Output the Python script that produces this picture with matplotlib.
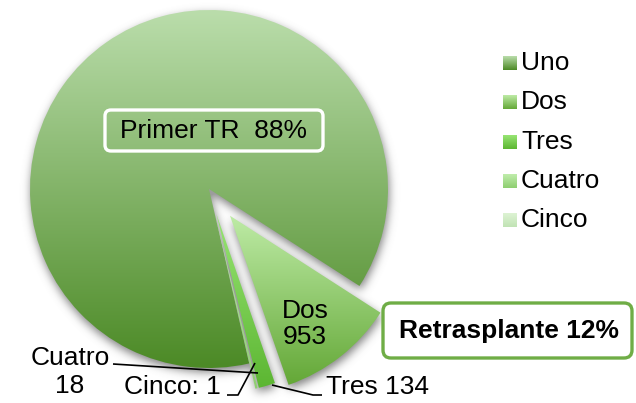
import numpy as np
import matplotlib
matplotlib.use('Agg')
import matplotlib.pyplot as plt
from matplotlib.patches import FancyBboxPatch

plt.rcParams['font.family'] = ['Liberation Sans', 'DejaVu Sans']

# ---- data ----
categories = ['Uno', 'Dos', 'Tres', 'Cuatro', 'Cinco']
values = [7900, 953, 134, 18, 1]
group_labels = ['Primer TR', 'Retrasplante']

# ---- style ----
W, H = 636, 403
grad_top = [(186, 221, 171), (190, 235, 166), (152, 229, 116), (192, 237, 172), (222, 243, 212)]
grad_bot = [(76, 138, 38), (100, 168, 55), (92, 182, 50), (142, 206, 112), (192, 227, 180)]
explode = [0, 34, 26, 26, 26]
FS = 19


def Y(y):
    return H - y


fig = plt.figure(figsize=(W / 100, H / 100), dpi=100)
ax = fig.add_axes([0, 0, 1, 1])

total = sum(values)
start = -32.8 + 360 * values[0] / total
wedges, _ = ax.pie(values, radius=179, center=(209, Y(189)), startangle=start,
                   counterclock=False, explode=explode,
                   wedgeprops=dict(linewidth=0, edgecolor='none'))


def grad_img(top, bot, n=128):
    t = np.linspace(0, 1, n)[:, None]
    a = np.array(top) / 255.0
    b = np.array(bot) / 255.0
    return (a[None, :] * (1 - t) + b[None, :] * t)[:, None, :]


# gradient fill clipped to each wedge
for i, w in enumerate(wedges):
    w.set_facecolor('none')
    ext = w.get_path().get_extents()
    im = ax.imshow(grad_img(grad_top[i], grad_bot[i]), extent=[ext.x0, ext.x1, ext.y0, ext.y1],
                   origin='upper', aspect='auto', interpolation='bilinear', zorder=2)
    im.set_clip_path(w)

# soft shadow behind slices
yy, xx = np.mgrid[0:H, 0:W]
off = (1.0, -4.0)
pts = np.column_stack([xx.ravel() + 0.5 - off[0], H - yy.ravel() - 0.5 - off[1]])
mask = np.zeros(H * W)
for w in wedges:
    mask = np.maximum(mask, w.get_path().contains_points(pts).astype(float))
mask = mask.reshape(H, W)
sig = 4.5
k = np.exp(-0.5 * (np.arange(-15, 16) / sig) ** 2)
k /= k.sum()
blur = np.apply_along_axis(lambda r: np.convolve(r, k, mode='same'), 1, mask)
blur = np.apply_along_axis(lambda c: np.convolve(c, k, mode='same'), 0, blur)
shadow = np.zeros((H, W, 4))
shadow[..., :3] = 0.45
shadow[..., 3] = np.clip(blur * 0.9, 0, 0.7)
ax.imshow(shadow, extent=[0, W, 0, H], origin='upper', aspect='auto', zorder=1)

# ---- labels ----
pct_first = 100 * values[0] / total
pct_re = 100 - round(pct_first)

ax.add_patch(FancyBboxPatch((105, Y(151)), 218, 41, boxstyle='round,pad=0,rounding_size=6',
                            fc='none', ec='white', lw=2.4, zorder=5))
ax.text(214, Y(131), f'{group_labels[0]}  {pct_first:.0f}%', ha='center', va='center',
        fontsize=FS, zorder=6)

ax.add_patch(FancyBboxPatch((383, Y(358)), 249, 55, boxstyle='round,pad=0,rounding_size=8',
                            fc='white', ec='#6fad46', lw=2.4, zorder=5))
ax.text(509, Y(331), f'{group_labels[1]} {pct_re:.0f}%', ha='center', va='center',
        fontsize=FS, fontweight='bold', zorder=6)

ax.text(305, Y(324), f'{categories[1]}\n{values[1]}', ha='center', va='center',
        fontsize=FS, linespacing=1.15, zorder=6)
ax.text(70, Y(372), f'{categories[3]}\n{values[3]}', ha='center', va='center',
        fontsize=FS, linespacing=1.2, zorder=6)
ax.text(172, Y(387), f'{categories[4]}: {values[4]}', ha='center', va='center',
        fontsize=FS, zorder=6)
ax.text(326, Y(387), f'{categories[2]} {values[2]}', ha='left', va='center',
        fontsize=FS, zorder=6)

# leader lines
lk = dict(color='black', lw=1.2, zorder=6, solid_capstyle='butt')
ax.plot([113, 258], [Y(364), Y(373)], **lk)
ax.plot([227, 238, 255], [Y(395), Y(395), Y(363)], **lk)
ax.plot([272, 313, 322], [Y(385), Y(395), Y(395)], **lk)

# ---- legend ----
for i, name in enumerate(categories):
    yc = 63 + i * 39.3
    ax.imshow(grad_img(grad_top[i], grad_bot[i]), extent=[503, 517, Y(yc + 7), Y(yc - 7)],
              origin='upper', aspect='auto', interpolation='bilinear', zorder=6)
    ax.text(521, Y(yc), name, ha='left', va='center', fontsize=FS, zorder=6)

ax.set_xlim(0, W)
ax.set_ylim(0, H)
ax.set_aspect('auto')
ax.axis('off')
fig.savefig('out.png', dpi=100)
